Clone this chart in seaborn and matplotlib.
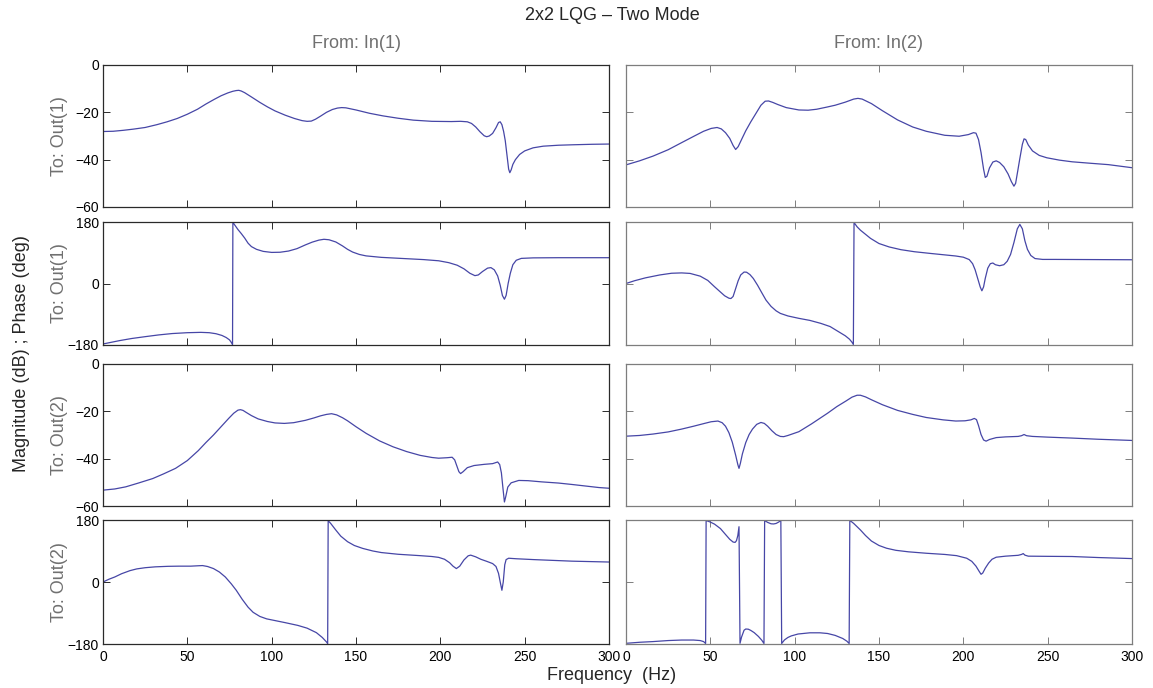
import matplotlib
matplotlib.use("Agg")
import matplotlib.pyplot as plt
import seaborn as sns

# ---- Frequency response data (Hz, dB / deg) ----
# From In(1) -> To Out(1)
f_mag_11 = [0, 6, 12, 18, 25, 32, 38, 44, 50, 56, 61, 66, 70, 74, 77, 79, 80.5, 82, 84, 88, 93, 97.5,
            102, 108, 113.5, 118, 121, 123.5, 126, 129, 132.5, 136, 139, 141.5, 144, 150, 158, 166, 175,
            184, 195, 206.5, 212, 216, 218.5, 221, 223.5, 226, 227.5, 229, 231, 233, 234.5, 235.5, 236.5,
            237.5, 238.5, 239.5, 240.5, 241.2, 242, 243, 244.5, 247, 250, 255, 261, 270, 279, 290, 300]
mag_11 = [-28.1, -28.0, -27.6, -27.1, -26.4, -25.2, -24.0, -22.6, -20.8, -18.7, -16.5, -14.5, -13.0,
          -11.8, -11.1, -10.8, -10.7, -11.0, -11.7, -13.5, -15.8, -17.7, -19.4, -21.2, -22.6, -23.5,
          -23.8, -23.7, -22.9, -21.6, -20.0, -18.8, -18.2, -18.0, -18.1, -19.0, -20.4, -21.5, -22.5,
          -23.3, -23.8, -23.9, -23.8, -24.0, -24.7, -26.2, -28.2, -29.9, -30.3, -30.0, -28.9, -26.5,
          -24.3, -24.0, -25.2, -28.0, -32.0, -38.0, -44.0, -45.5, -44.3, -42.0, -40.0, -37.8, -36.3,
          -35.0, -34.3, -33.9, -33.7, -33.5, -33.4]
f_ph_11 = [0, 5, 10, 17, 25, 33, 41, 50, 58, 63, 67, 70.5, 73, 75, 76.3, 76.8, 77, 78, 80, 82, 84, 86,
           88, 91, 95, 100, 105, 110, 115, 120, 124, 128, 131, 134, 138, 142, 145, 148, 152, 156, 165,
           176.5, 190, 199, 205, 210, 214, 217.5, 220.5, 222.5, 225, 228, 230, 232, 234, 235.5, 236.8,
           238, 239, 240.2, 241.5, 243, 245, 248, 255, 270, 300]
ph_11 = [-177, -172, -167, -161, -155.6, -150.5, -146.5, -144, -143, -144, -147, -152, -158, -165,
         -174, -179, 179, 172, 158, 146, 133, 118, 108, 100, 94, 91, 91.5, 95, 102, 113, 121, 127,
         129.4, 128, 121.6, 110, 100, 92, 85, 80.8, 76.5, 73.5, 70, 66.5, 61, 53.5, 43, 30, 23, 25, 35,
         45, 46.5, 40, 22, -5, -35, -46, -35, 0, 30, 55, 68, 73.5, 75, 75.5, 75.5]

# From In(1) -> To Out(2)
f_mag_21 = [0, 7, 13.5, 21, 29.5, 36, 43, 50, 56.5, 61, 65.5, 70, 74.5, 77.5, 80, 81.5, 83, 85, 88, 92,
            97.5, 102, 107.5, 113, 120, 125, 129, 132.5, 135.5, 138.5, 142, 145, 150, 156, 164, 172,
            180, 188, 195, 199, 204, 207, 208.5, 209.5, 211, 212, 213.5, 216, 220, 226, 231, 234, 235.2,
            236.2, 237.2, 238, 238.8, 240, 242, 246.5, 252, 260, 270, 278, 294, 300]
mag_21 = [-53.3, -52.8, -51.9, -50.3, -48.4, -46.4, -44.1, -40.8, -36.6, -33.2, -30.0, -26.5, -23.0,
          -20.8, -19.5, -19.3, -19.6, -20.5, -21.8, -23.2, -24.3, -24.9, -25.1, -24.8, -23.8, -22.8,
          -21.9, -21.3, -21.0, -21.5, -22.7, -24.0, -26.5, -29.3, -32.5, -35.0, -37.0, -38.6, -39.5,
          -39.8, -39.6, -39.4, -40.5, -42.5, -45.5, -46.3, -45.5, -43.8, -42.9, -42.4, -42.1, -41.4,
          -42.5, -46.0, -53.0, -58.3, -56.0, -52.0, -50.2, -49.2, -49.3, -49.8, -50.3, -50.9, -52.2, -52.5]
f_ph_21 = [0, 3.5, 7, 11, 16, 20, 25, 31, 38.5, 45, 52, 56, 59, 62, 65.5, 69, 72.5, 76, 79, 82.5, 86,
           89, 93, 97, 102, 108, 115.5, 121, 126.5, 130, 132.5, 133.2, 133.5, 135, 138, 141, 145, 149,
           154, 160, 165, 175, 188, 195, 199, 202.5, 205.5, 207.5, 209.5, 211.5, 214, 216.5, 218, 221,
           224, 227.5, 231, 233, 234.5, 235.5, 236.5, 237.3, 238.2, 239, 240.5, 245, 255.5, 278, 300]
ph_21 = [0, 8, 14.6, 24, 33, 38, 41.5, 44, 45.5, 46, 46, 47, 47.7, 45, 39, 29, 14.6, -5, -24, -50,
         -73, -88, -100, -107, -112, -118, -126, -134, -147, -161, -174, -179, 178, 170, 151, 133, 117,
         106, 97.5, 90, 85.5, 80.5, 76.5, 74, 71.5, 66, 56, 46, 39, 46, 64, 76, 78, 73, 66, 60, 53.5,
         45, 25, 0, -24, 0, 50, 65, 69, 67.5, 65, 60.5, 58]

# From In(2) -> To Out(1)
f_mag_12 = [0, 8, 16, 25, 33, 40, 46, 50.5, 54, 56.5, 59, 61.5, 63.5, 65, 66.5, 68.5, 71, 74, 77, 80,
            82.5, 84.5, 87, 90, 95, 102.5, 108, 113, 119, 124, 130, 135, 137.5, 140, 145.5, 152, 161,
            170, 178, 189, 197.5, 203, 206, 207.5, 209, 210.5, 212, 213, 214, 215.5, 217.5, 219.5,
            221.5, 224, 226.5, 228.5, 230, 231, 232.2, 233.5, 235, 236, 237, 238.5, 241, 245, 249.5,
            257, 264.5, 275, 286, 300]
mag_12 = [-42.2, -40.5, -38.5, -35.8, -32.8, -30.2, -28.0, -26.8, -26.4, -27.0, -28.6, -31.0, -34.0,
          -35.7, -34.5, -31.5, -27.8, -24.0, -20.5, -17.0, -15.3, -15.2, -15.8, -16.7, -18.0, -19.0,
          -19.1, -18.7, -17.8, -17.0, -15.7, -14.4, -14.1, -14.4, -16.3, -19.3, -23.2, -26.2, -28.0,
          -29.7, -30.1, -29.4, -28.6, -28.8, -31.5, -37.0, -44.0, -47.5, -47.0, -43.5, -41.0, -40.5,
          -41.2, -43.0, -46.0, -49.3, -51.2, -50.0, -45.0, -39.5, -33.5, -31.2, -31.5, -33.8, -36.3,
          -38.2, -39.2, -40.2, -40.9, -41.5, -42.1, -43.4]
f_ph_12 = [0, 5, 11.5, 20, 27, 33, 38, 44, 48.5, 52.5, 56, 58.5, 61, 62.2, 63.5, 65, 66.5, 68, 70,
           71.5, 73.5, 75.5, 78, 80.5, 83, 86, 89, 91.5, 96, 102.5, 109, 115.5, 121, 126, 130, 132.5,
           134, 134.8, 135.2, 137, 139, 141.5, 145, 150, 156, 163, 171, 180.5, 195.5, 200, 203.5,
           205.5, 207, 208.5, 210, 211, 212, 213, 214.5, 216, 217.5, 219, 221.5, 224, 226, 228, 230,
           232, 233.5, 235, 236.5, 238, 240, 242.5, 247, 254, 300]
ph_12 = [0, 8, 16.5, 25, 30, 31, 29.5, 21.5, 9, -9.5, -25, -36, -43, -44, -38, -15, 8, 25, 33.5, 33,
         26, 14.6, -5, -27, -48.6, -67, -80, -87.5, -95, -102, -108, -116.7, -126, -141, -153, -163,
         -172, -178.5, 178.5, 166, 156, 146, 132, 117, 107, 99, 93, 88, 80.5, 77, 70, 58, 40, 15, -10,
         -21.4, -10, 15, 45, 58, 60, 55, 52, 55, 65, 85, 120, 160, 173, 160, 125, 100, 82, 73, 70.5,
         70.5, 69.5]

# From In(2) -> To Out(2)
f_mag_22 = [0, 8, 16, 25, 33, 40, 46, 50.5, 54.5, 57, 59, 61, 63, 65, 66.3, 67, 67.8, 69, 71, 73, 75,
            77.5, 80, 82, 84, 86.5, 89, 91.5, 93.5, 96, 102.5, 110, 119.5, 125, 130.5, 134, 137, 139,
            142, 145.5, 152, 161, 170, 178, 188, 195.5, 201, 204.5, 206.5, 207.8, 209, 210.5, 212,
            213.5, 215.5, 219.5, 225, 232.5, 234.5, 236, 237.5, 241, 250, 264.5, 280, 300]
mag_22 = [-30.5, -30.2, -29.6, -28.7, -27.5, -26.3, -25.2, -24.4, -24.1, -24.8, -26.3, -29.0, -33.0,
          -38.5, -42.5, -44.1, -42.0, -38.0, -33.2, -29.8, -27.5, -25.5, -24.7, -25.1, -26.3, -28.2,
          -29.8, -30.6, -30.7, -30.2, -28.6, -25.3, -20.8, -18.0, -15.6, -14.0, -13.2, -13.2, -13.9,
          -15.1, -17.2, -19.6, -21.3, -22.6, -23.6, -24.1, -24.0, -23.6, -23.0, -23.5, -26.0, -29.8,
          -32.1, -32.6, -31.9, -31.1, -30.8, -30.6, -30.3, -29.8, -30.3, -30.6, -30.9, -31.3, -31.8,
          -32.3]
f_ph_22 = [0, 8, 16, 25, 33, 40, 44, 46, 47.2, 47.5, 50, 52.5, 56, 59, 61.5, 63.5, 64.7, 65.5, 66.3,
           67, 67.6, 68.5, 70, 71, 72.5, 74, 76, 78.5, 80.5, 81.8, 82.2, 84, 86, 87.5, 89, 90.5, 91.8,
           92.3, 94, 96, 98, 102, 109, 115, 119.5, 124, 128.5, 131, 132.3, 132.7, 135, 139, 142, 145.5,
           150, 154.5, 160, 167.5, 178, 189, 196, 202, 205, 207.5, 209.5, 210.5, 211.5, 213, 215, 217,
           219.5, 225, 232.5, 234.5, 235.5, 236.5, 238.5, 250, 264.5, 280, 300]
ph_22 = [-178, -175, -173, -170, -168.5, -168.5, -170, -173, -178.5, 178.5, 174, 168, 155, 138, 124,
         116, 115, 120, 135, 160.5, -178, -160, -140, -136.5, -137, -140.6, -147, -158, -169, -178.5,
         178.5, 173, 169, 168.5, 170, 174, 178.5, -178.5, -168, -161, -156.5, -151, -147.5, -147.5,
         -149.5, -155, -164, -172, -178.5, 179, 170, 151, 135, 119, 106, 98, 92, 87.6, 83.5, 80, 76.5,
         69, 60, 46, 30, 22.4, 26, 40, 55, 66, 72, 75, 77.5, 80, 82.5, 78, 75, 74.5, 74, 71, 68]

freq_ticks = [0, 50, 100, 150, 200, 250, 300]
mag_ticks = [-60, -40, -20, 0]
phase_ticks = [-180, 0, 180]
input_names = ["From: In(1)", "From: In(2)"]
output_names = ["To: Out(1)", "To: Out(2)"]

# ---- Style ----
sns.set_theme(style="ticks")
plt.rcParams["font.family"] = ["Liberation Sans", "DejaVu Sans"]
plt.rcParams.update({
    "xtick.direction": "in", "ytick.direction": "in",
    "xtick.top": True, "ytick.right": True,
    "xtick.bottom": True, "ytick.left": True,
    "xtick.major.size": 5, "ytick.major.size": 5,
    "xtick.major.width": 0.7, "ytick.major.width": 0.7,
    "xtick.labelsize": 10, "ytick.labelsize": 10,
    "xtick.major.pad": 4, "ytick.major.pad": 3,
    "axes.linewidth": 0.9,
})

LINE = "#4646a6"
LABEL_GRAY = "#707070"
FRAME = ["#2a2a2a", "#7d7d7d"]

fig = plt.figure(figsize=(11.53, 6.88), dpi=100)
W, H = 1153.0, 688.0

col_left = [103, 626]
col_width = 506
rows = [(65, 207), (222, 345), (364, 506), (520, 644)]

panels = {
    (0, 0): (f_mag_11, mag_11, "mag"), (1, 0): (f_ph_11, ph_11, "ph"),
    (2, 0): (f_mag_21, mag_21, "mag"), (3, 0): (f_ph_21, ph_21, "ph"),
    (0, 1): (f_mag_12, mag_12, "mag"), (1, 1): (f_ph_12, ph_12, "ph"),
    (2, 1): (f_mag_22, mag_22, "mag"), (3, 1): (f_ph_22, ph_22, "ph"),
}

for (r, c), (fx, vy, kind) in panels.items():
    top, bot = rows[r]
    ax = fig.add_axes([col_left[c] / W, (H - bot) / H, col_width / W, (bot - top) / H])
    sns.lineplot(x=fx, y=vy, ax=ax, sort=False, estimator=None, color=LINE, linewidth=0.9)
    ax.set_xlim(0, 300)
    ax.set_xticks(freq_ticks)
    if kind == "mag":
        ax.set_ylim(-60, 0)
        ax.set_yticks(mag_ticks)
    else:
        ax.set_ylim(-180, 180)
        ax.set_yticks(phase_ticks)
    ax.set_xlabel("")
    ax.set_ylabel("")
    for s in ax.spines.values():
        s.set_color(FRAME[c])
    ax.tick_params(colors=FRAME[c], labelcolor="black")
    if c == 1:
        ax.tick_params(labelleft=False)
    if r != 3:
        ax.tick_params(labelbottom=False)

# ---- Figure texts ----
fig.text(612 / W, 1 - 16 / H, "2x2 LQG – Two Mode", ha="center", va="center", fontsize=13)
for c in range(2):
    fig.text((col_left[c] + col_width / 2) / W, 1 - 44 / H, input_names[c],
             ha="center", va="center", fontsize=13, color=LABEL_GRAY)
for r, name in zip(range(4), [output_names[0], output_names[0], output_names[1], output_names[1]]):
    top, bot = rows[r]
    fig.text(60 / W, 1 - (top + bot) / 2 / H, name, rotation=90, ha="center", va="center",
             fontsize=13, color=LABEL_GRAY)
fig.text(22 / W, 1 - 354 / H, "Magnitude (dB) ; Phase (deg)", rotation=90,
         ha="center", va="center", fontsize=13)
fig.text(612 / W, 1 - 675 / H, "Frequency  (Hz)", ha="center", va="center", fontsize=13)

fig.savefig("out.png", dpi=100, facecolor="white")
